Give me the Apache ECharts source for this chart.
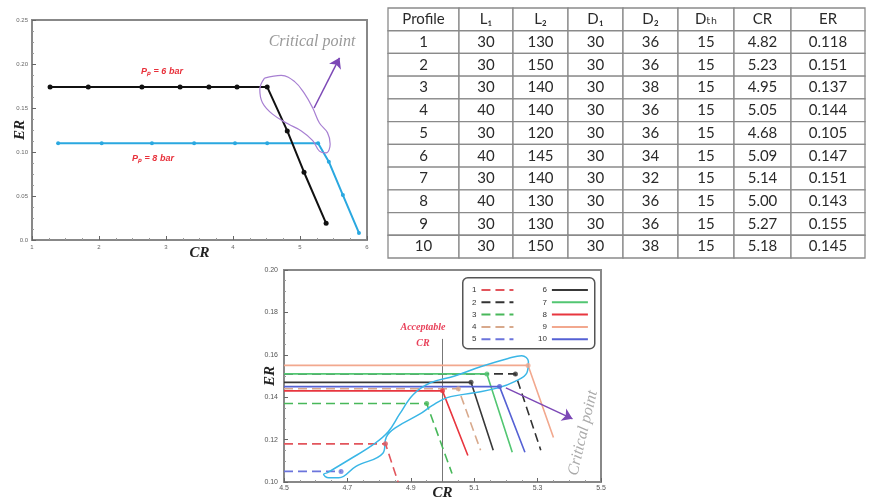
<!DOCTYPE html>
<html>
<head>
<meta charset="utf-8">
<script src="https://cdn.jsdelivr.net/npm/echarts@6/dist/echarts.min.js"></script>
<style>
  html, body { margin: 0; padding: 0; background: #fff; }
  #chart { width: 870px; height: 502px; }
</style>
</head>
<body>
<div id="chart"></div>
<script>
// ---------- top chart: ER vs CR at two primary pressures ----------
const p6CR = [1.27, 1.84, 2.64, 3.21, 3.64, 4.06, 4.51, 4.81, 5.06, 5.39];
const p6ER = [0.174, 0.174, 0.174, 0.174, 0.174, 0.174, 0.174, 0.124, 0.077, 0.019];
const p8CR = [1.39, 2.04, 2.79, 3.42, 4.03, 4.51, 5.27, 5.43, 5.64, 5.88];
const p8ER = [0.110, 0.110, 0.110, 0.110, 0.110, 0.110, 0.110, 0.089, 0.051, 0.008];
// hand drawn loop around the knee points + arrow to label
const topLoopCR = [4.47, 4.72, 4.92, 5.07, 5.19, 5.29, 5.41, 5.45, 5.39, 5.29, 5.19, 5.02, 4.82, 4.59, 4.44, 4.40, 4.47];
const topLoopER = [0.184, 0.187, 0.180, 0.166, 0.150, 0.133, 0.122, 0.109, 0.099, 0.101, 0.113, 0.124, 0.132, 0.143, 0.156, 0.171, 0.184];
const topArrow = [[5.21, 0.150], [5.59, 0.207]];

// ---------- table ----------
const tableHead = ['Profile', 'L₁', 'L₂', 'D₁', 'D₂', 'Dₜₕ', 'CR', 'ER'];
const profiles = [1, 2, 3, 4, 5, 6, 7, 8, 9, 10];
const L1 = [30, 30, 30, 40, 30, 40, 30, 40, 30, 30];
const L2 = [130, 150, 140, 140, 120, 145, 140, 130, 130, 150];
const D1 = [30, 30, 30, 30, 30, 30, 30, 30, 30, 30];
const D2 = [36, 36, 38, 36, 36, 34, 32, 36, 36, 38];
const Dth = [15, 15, 15, 15, 15, 15, 15, 15, 15, 15];
const CR = [4.82, 5.23, 4.95, 5.05, 4.68, 5.09, 5.14, 5.00, 5.27, 5.18];
const ER = [0.118, 0.151, 0.137, 0.144, 0.105, 0.147, 0.151, 0.143, 0.155, 0.145];

// ---------- bottom chart: where each profile's curve ends after the knee ----------
const endCR = [4.86, 5.31, 5.03, 5.12, null, 5.16, 5.22, 5.08, 5.35, 5.26];
const endER = [0.100, 0.115, 0.104, 0.115, null, 0.115, 0.114, 0.1125, 0.121, 0.114];
const lineColors = ['#e2555c', '#333333', '#48b85a', '#d8a98c', '#6b74dc',
                    '#383838', '#52c672', '#e8363f', '#f2a88e', '#5561d4'];
const dashed = [true, true, true, true, true, false, false, false, false, false];
const acceptCR = [[5.0, 0.1675], [5.0, 0.10]];
const loopCR = [4.636, 4.705, 4.780, 4.828, 4.865, 4.908, 4.962, 5.036, 5.122, 5.207, 5.250, 5.271, 5.266, 5.229, 5.175, 5.100, 5.015, 4.967, 4.929, 4.855, 4.823, 4.812, 4.727, 4.673, 4.641, 4.625, 4.636];
const loopER = [0.1043, 0.1105, 0.1175, 0.1236, 0.1321, 0.1413, 0.1468, 0.1499, 0.1545, 0.1583, 0.1596, 0.1568, 0.1514, 0.1475, 0.1444, 0.1421, 0.1398, 0.1360, 0.1321, 0.1259, 0.1213, 0.1136, 0.1074, 0.1020, 0.1020, 0.1036, 0.1043];
const botArrow = [[5.20, 0.1444], [5.41, 0.1298]];

const colWidths = [71, 54, 55, 55, 55, 56, 57, 74];
const colEdges = [0];
colWidths.forEach(w => colEdges.push(colEdges[colEdges.length - 1] + w));

const zip = (a, b) => a.map((v, i) => [v, b[i]]);

// table cells
const cells = [];
tableHead.forEach((t, c) => cells.push({ value: [c, 0], text: t }));
profiles.forEach((p, i) => {
  const row = [String(p), String(L1[i]), String(L2[i]), String(D1[i]), String(D2[i]),
               String(Dth[i]), CR[i].toFixed(2), ER[i].toFixed(3)];
  row.forEach((t, c) => cells.push({ value: [c, i + 1], text: t }));
});

const nameStyle = { fontFamily: 'Liberation Serif', fontStyle: 'italic', fontWeight: 'bold',
                    fontSize: 15, color: '#222' };
function valAxis(extra) {
  return Object.assign({
    type: 'value',
    axisLine: { show: true, lineStyle: { color: '#888', width: 2 } },
    axisTick: { show: true, inside: true, length: 4, lineStyle: { color: '#666' } },
    minorTick: { show: true, splitNumber: 4, length: 2, lineStyle: { color: '#999' } },
    splitLine: { show: false },
    axisLabel: { color: '#666', fontSize: 6 },
    nameLocation: 'middle',
    nameMoveOverlap: false,
    nameTextStyle: nameStyle
  }, extra);
}

const myChart = echarts.init(document.getElementById('chart'));

const series = [];
series.push({
  type: 'line', xAxisIndex: 0, yAxisIndex: 0, data: zip(p6CR, p6ER),
  symbol: 'circle', symbolSize: 5, itemStyle: { color: '#111' },
  lineStyle: { color: '#111', width: 2 }, z: 4
});
series.push({
  type: 'line', xAxisIndex: 0, yAxisIndex: 0, data: zip(p8CR, p8ER),
  symbol: 'circle', symbolSize: 4, itemStyle: { color: '#2aa8e0' },
  lineStyle: { color: '#2aa8e0', width: 2 }, z: 3
});
series.push({
  type: 'line', xAxisIndex: 0, yAxisIndex: 0, data: zip(topLoopCR, topLoopER),
  smooth: 0.4, symbol: 'none', lineStyle: { color: '#a77fd2', width: 1.2 }, silent: true, z: 5
});
series.push({
  type: 'lines', coordinateSystem: 'cartesian2d', xAxisIndex: 0, yAxisIndex: 0,
  data: [{ coords: topArrow }], symbol: ['none', 'arrow'], symbolSize: 10,
  lineStyle: { color: '#7c48b6', width: 1.5, opacity: 1 }, silent: true, z: 5
});

// bottom chart: one curve per profile
profiles.forEach((p, i) => {
  const pts = [[4.5, ER[i]], [CR[i], ER[i]]];
  if (endCR[i] !== null) pts.push([endCR[i], endER[i]]);
  series.push({
    name: String(p), type: 'line', xAxisIndex: 1, yAxisIndex: 1, data: pts,
    symbol: 'none', itemStyle: { color: lineColors[i] },
    lineStyle: { color: lineColors[i], width: 1.6, type: dashed[i] ? [9, 5] : 'solid' }, z: 3
  });
});
series.push({
  name: 'knee', type: 'scatter', xAxisIndex: 1, yAxisIndex: 1, symbolSize: 5, z: 6,
  data: profiles.map((p, i) => ({ value: [CR[i], ER[i]], itemStyle: { color: lineColors[i] } }))
});
series.push({
  name: 'accept', type: 'line', xAxisIndex: 1, yAxisIndex: 1, data: acceptCR,
  symbol: 'none', lineStyle: { color: '#777', width: 1 }, z: 2
});
series.push({
  name: 'loop', type: 'line', xAxisIndex: 1, yAxisIndex: 1, data: zip(loopCR, loopER),
  smooth: 0.4, symbol: 'none', lineStyle: { color: '#3ab6e6', width: 1.5 }, silent: true, z: 5
});
series.push({
  name: 'arrow', type: 'lines', coordinateSystem: 'cartesian2d', xAxisIndex: 1, yAxisIndex: 1,
  data: [{ coords: botArrow }], symbol: ['none', 'arrow'], symbolSize: 10,
  lineStyle: { color: '#7c48b6', width: 1.5, opacity: 1 }, silent: true, z: 6
});

// table drawn as a custom series on its own grid
series.push({
  name: 'table', type: 'custom', xAxisIndex: 2, yAxisIndex: 2, clip: false, silent: true,
  encode: { x: 0, y: 1 },
  data: cells.map(c => c.value),
  renderItem: function (params, api) {
    const c = api.value(0), r = api.value(1);
    const a = api.coord([colEdges[c], r]);
    const b = api.coord([colEdges[c + 1], r]);
    const h = api.size([0, 1])[1];
    return {
      type: 'group',
      children: [
        { type: 'rect', shape: { x: a[0], y: a[1] - h / 2, width: b[0] - a[0], height: h },
          style: { fill: '#fff', stroke: '#8a8a8a', lineWidth: 1.3 } },
        { type: 'text', x: (a[0] + b[0]) / 2, y: a[1],
          style: { text: cells[params.dataIndex].text, align: 'center', verticalAlign: 'middle',
                   font: '15px Lato, "DejaVu Sans"', fill: '#2a2a2a' } }
      ]
    };
  }
});

const legendBase = {
  orient: 'vertical', align: 'right', top: 281, itemHeight: 8, itemGap: 4.3,
  itemStyle: { opacity: 0 }, textStyle: { fontSize: 8, color: '#333' }
};

const option = {
  backgroundColor: '#fff',
  animation: false,
  grid: [
    { left: 32, top: 20, width: 335, height: 220, show: true, borderColor: '#888', borderWidth: 2 },
    { left: 284, top: 270, width: 317, height: 217, show: true, borderColor: '#888', borderWidth: 2 },
    { left: 388, top: 8, width: 477, height: 250 }
  ],
  xAxis: [
    valAxis({ gridIndex: 0, min: 1, max: 6, interval: 1, name: 'CR', nameGap: 6,
              axisLabel: { color: '#666', fontSize: 6, margin: 4 } }),
    valAxis({ gridIndex: 1, min: 4.5, max: 5.5, interval: 0.2, name: 'CR', nameGap: 4,
              axisLabel: { color: '#555', fontSize: 7, margin: 3, formatter: v => v.toFixed(1) } }),
    { gridIndex: 2, type: 'value', min: 0, max: colEdges[colEdges.length - 1], show: false }
  ],
  yAxis: [
    valAxis({ gridIndex: 0, min: 0, max: 0.25, interval: 0.05, name: 'ER', nameGap: 4,
              axisLabel: { color: '#666', fontSize: 6, margin: 4,
                           formatter: v => v === 0 ? '0.0' : v.toFixed(2) } }),
    valAxis({ gridIndex: 1, min: 0.10, max: 0.20, interval: 0.02, name: 'ER', nameGap: 6,
              axisLabel: { color: '#555', fontSize: 7, margin: 6, formatter: v => v.toFixed(2) } }),
    { gridIndex: 2, type: 'category', inverse: true, show: false,
      data: ['head'].concat(profiles.map(String)) }
  ],
  legend: [
    Object.assign({ data: ['1', '2', '3', '4', '5'], left: 467, itemWidth: 32 }, legendBase),
    Object.assign({ data: ['6', '7', '8', '9', '10'], left: 533, itemWidth: 36 }, legendBase)
  ],
  graphic: [
    { type: 'rect', left: 462, top: 277, silent: true, z: 1,
      shape: { width: 132, height: 71, r: 5 }, style: { fill: '#fff', stroke: '#555', lineWidth: 1.5 } },
    { type: 'text', x: 312, y: 42, silent: true,
      style: { text: 'Critical point', font: 'italic 16px "Liberation Serif"', fill: '#999',
               align: 'center', verticalAlign: 'middle' } },
    { type: 'text', x: 162, y: 72, silent: true,
      style: { text: 'Pₚ = 6 bar', font: 'italic bold 9px "Liberation Sans"', fill: '#e8303a',
               align: 'center', verticalAlign: 'middle' } },
    { type: 'text', x: 153, y: 159, silent: true,
      style: { text: 'Pₚ = 8 bar', font: 'italic bold 9px "Liberation Sans"', fill: '#e8303a',
               align: 'center', verticalAlign: 'middle' } },
    { type: 'text', x: 423, y: 327, silent: true,
      style: { text: 'Acceptable', font: 'italic bold 10px "Liberation Serif"', fill: '#e8415a',
               align: 'center', verticalAlign: 'middle' } },
    { type: 'text', x: 423, y: 343, silent: true,
      style: { text: 'CR', font: 'italic bold 10px "Liberation Serif"', fill: '#e8415a',
               align: 'center', verticalAlign: 'middle' } },
    { type: 'text', x: 583, y: 433, rotation: 1.34, silent: true,
      style: { text: 'Critical point', font: 'italic 16px "Liberation Serif"', fill: '#aaa',
               align: 'center', verticalAlign: 'middle' } }
  ],
  series: series
};

myChart.setOption(option);
</script>
</body>
</html>
